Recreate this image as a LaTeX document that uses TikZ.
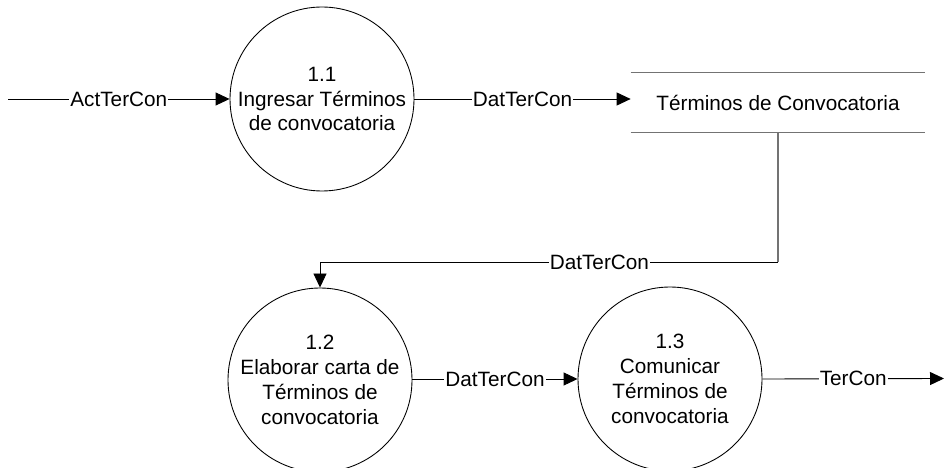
\documentclass[tikz,border=0pt]{standalone}
\usepackage{fontspec}
\setmainfont{Liberation Sans}
\usetikzlibrary{arrows.meta,positioning,calc}

\begin{document}
\begin{tikzpicture}[every node/.style={font=\fontsize{11.8}{14.1}\selectfont},
	proc/.style={draw, circle, minimum size=3.68cm, inner sep=0pt, align=center, line width=0.5pt},
	flow/.style={draw, line width=0.5pt, -{Triangle[length=0.28cm, width=0.26cm]}},
	lbl/.style={fill=white, inner sep=0.6pt},
	storeline/.style={draw=black!55, line width=0.9pt}]
				\useasboundingbox (0,0) rectangle (18.88,-9.36);
				% procesos
				\node[proc] (c11) at (6.44,-1.98) {1.1\\Ingresar Términos\\de convocatoria};
				\node[proc] (c12) at (6.40,-7.60) {1.2\\Elaborar carta de\\Términos de\\convocatoria};
				\node[proc] (c13) at (13.40,-7.58) {1.3\\Comunicar\\Términos de\\convocatoria};
				% almacen
				\node[minimum width=5.88cm, minimum height=1.18cm, inner sep=0pt] (store) at (15.56,-2.05) {Términos de Convocatoria};
				\draw[storeline] (store.north west) -- (store.north east);
				\draw[storeline] (store.south west) -- (store.south east);
				% flujos
				\coordinate (in) at (0.16,-1.98);
				\coordinate (out) at (18.88,-7.57);
				\draw[flow] (in) -- node[lbl] {ActTerCon} (c11.west);
				\draw[flow] (c11.east) -- node[lbl] {DatTerCon} (store.west |- c11.east);
				\draw[storeline] (store.south) -- ++(0,-2.6) coordinate (bend);
				\draw[flow] (bend) -| node[lbl, pos=0.195] {DatTerCon} (c12.north);
				\draw[flow] (c12.east |- c13.east) -- node[lbl] {DatTerCon} (c13.west);
				\draw[flow] (c13.east) -- node[lbl] {TerCon} (out);
			\end{tikzpicture}
\end{document}
